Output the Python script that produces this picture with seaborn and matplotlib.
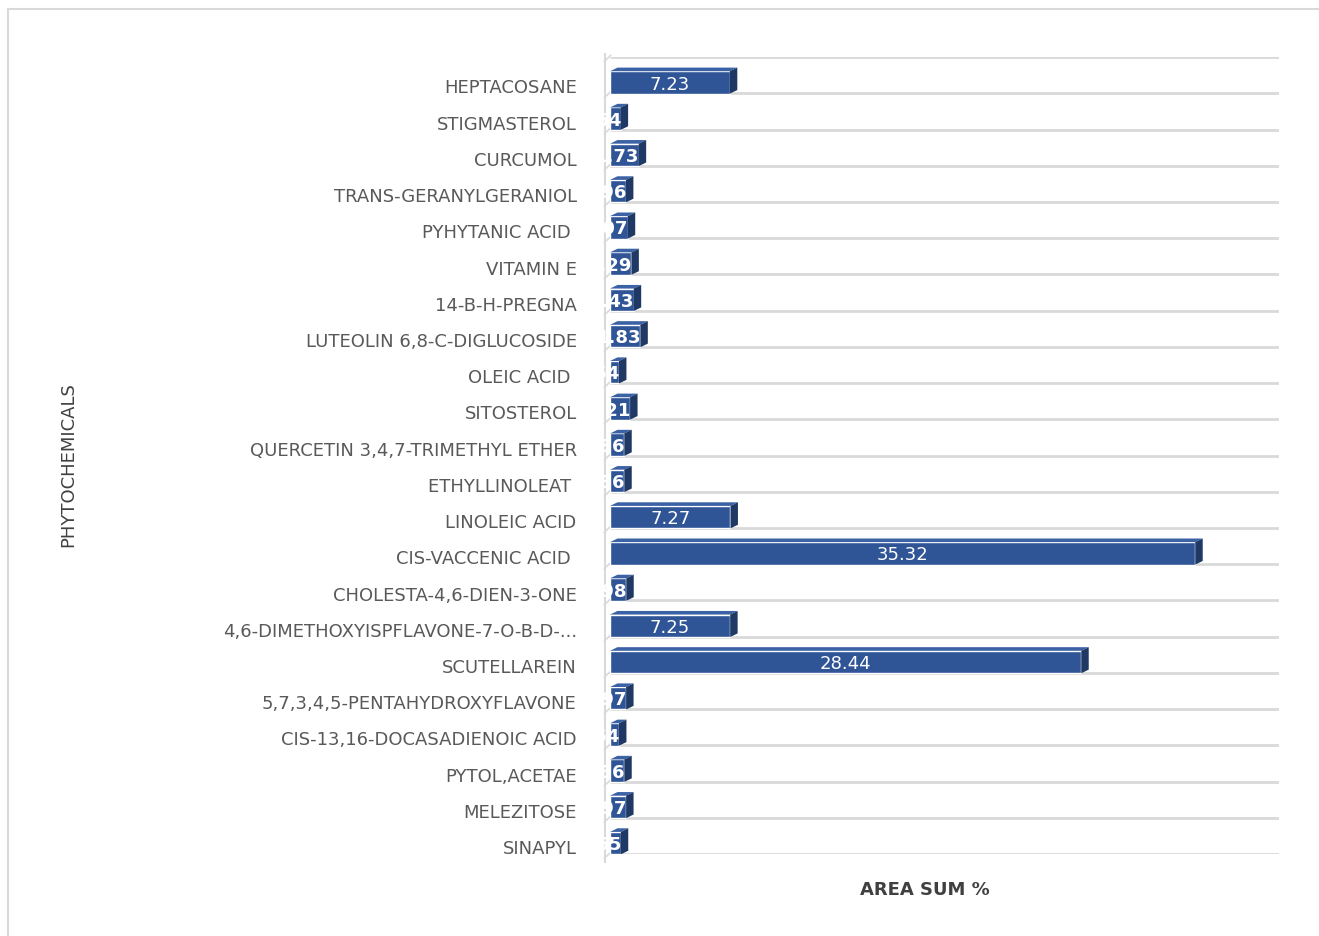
import matplotlib
matplotlib.use('Agg')

import numpy as np
import pandas as pd
import matplotlib.pyplot as plt
import matplotlib.transforms as mtransforms
import seaborn as sns
from matplotlib.patches import Polygon, Rectangle

sns.set_style("white")
plt.rcParams['font.family'] = ['DejaVu Sans']

# Dữ liệu (các giá trị nhỏ là ước lượng theo độ dài cột)
compounds = [
    'HEPTACOSANE', 'STIGMASTEROL', 'CURCUMOL', 'TRANS-GERANYLGERANIOL',
    'PYHYTANIC ACID ', 'VITAMIN E', '14-B-H-PREGNA', 'LUTEOLIN 6,8-C-DIGLUCOSIDE',
    'OLEIC ACID ', 'SITOSTEROL', 'QUERCETIN 3,4,7-TRIMETHYL ETHER', 'ETHYLLINOLEAT ',
    'LINOLEIC ACID', 'CIS-VACCENIC ACID ', 'CHOLESTA-4,6-DIEN-3-ONE',
    '4,6-DIMETHOXYISPFLAVONE-7-O-B-D-...', 'SCUTELLAREIN', '5,7,3,4,5-PENTAHYDROXYFLAVONE',
    'CIS-13,16-DOCASADIENOIC ACID', 'PYTOL,ACETAE', 'MELEZITOSE', 'SINAPYL',
]
area_sum = [7.23, 0.64, 1.73, 0.96, 1.07, 1.29, 1.43, 1.83, 0.54, 1.21, 0.86, 0.86,
            7.27, 35.32, 0.98, 7.25, 28.44, 0.97, 0.54, 0.86, 0.97, 0.65]
labels = ['7.23', '0.64', '1.73', '0.96', '1.07', '1.29', '1.43', '1.83', '0.54', '1.21',
          '0.86', '0.86', '7.27', '35.32', '0.98', '7.25', '28.44', '0.97', '0.54', '0.86',
          '0.97', '0.65']

df = pd.DataFrame({'compound': compounds, 'area': area_sum, 'label': labels})

BLUE = '#2F5597'
SIDE = '#1F3864'
TOP = '#3B62A5'
GREY = '#595959'
XMAX = 40.4
n = len(df)

fig = plt.figure(figsize=(13.19, 9.37), dpi=100)
fig.patches.append(Rectangle((0.006, -0.01), 1.0, 0.999, transform=fig.transFigure,
                             fill=False, edgecolor='#D9D9D9', linewidth=1.5))
ax = fig.add_axes([0.4625, 0.0875, 0.5075, 0.8505])

# sàn 3D: các đường lưới nằm dưới mỗi cột
grid_y = np.arange(n + 1) - 0.7
ax.hlines(grid_y, 0, XMAX, color='#D9D9D9', linewidth=2, zorder=0)
ax.vlines(-0.3, grid_y[0] - 0.1, grid_y[-1] + 0.25, color='#D9D9D9', linewidth=1.5,
          clip_on=False, zorder=0)
for g in grid_y:
    ax.plot([-0.35, 0.05], [g + 0.12, g - 0.05], color='#D9D9D9', linewidth=1.2,
            clip_on=False, zorder=0)

sns.barplot(data=df, x='area', y='compound', color=BLUE, width=0.62, saturation=1,
            ax=ax, zorder=2)

dx, dy = 0.45, 0.1
for i, p in enumerate(ax.patches):
    w = p.get_width()
    y0 = p.get_y()
    h = p.get_height()
    top = Polygon([(0, y0), (w, y0), (w + dx, y0 - dy), (dx, y0 - dy)],
                  closed=True, facecolor=TOP, edgecolor='none', zorder=2)
    side = Polygon([(w, y0), (w + dx, y0 - dy), (w + dx, y0 + h - dy), (w, y0 + h)],
                   closed=True, facecolor=SIDE, edgecolor='none', zorder=2)
    ax.add_patch(top)
    ax.add_patch(side)
    txt = df['label'][i]
    if w > 5:
        t = ax.text(w / 2, y0 + h / 2 + 0.03, txt, ha='center', va='center',
                    color='white', fontsize=13, zorder=3)
    else:
        t = ax.text(w + 0.05, y0 + h / 2 + 0.03, txt, ha='right', va='center',
                    color='white', fontsize=13, fontweight='bold', zorder=3)
        t.set_clip_path(p)

ax.set_xlim(0, XMAX)
ax.set_ylim(grid_y[-1], grid_y[0])
ax.set_xticks([])
ax.set_xlabel('')
ax.set_ylabel('')
ax.tick_params(axis='y', length=0, pad=24, labelsize=13, labelcolor=GREY)
shift = mtransforms.ScaledTranslation(0, -3 / 100, fig.dpi_scale_trans)
for lab in ax.get_yticklabels():
    lab.set_transform(lab.get_transform() + shift)
for s in ax.spines.values():
    s.set_visible(False)

fig.text(0.0516, 0.504, 'PHYTOCHEMICALS', rotation=90, ha='center', va='center',
         fontsize=13, color='#404040')
fig.text(0.701, 0.05, 'AREA SUM %', ha='center', va='center', fontsize=13,
         color='#404040', fontweight='semibold')

fig.savefig('out.png', dpi=100, facecolor='white')
